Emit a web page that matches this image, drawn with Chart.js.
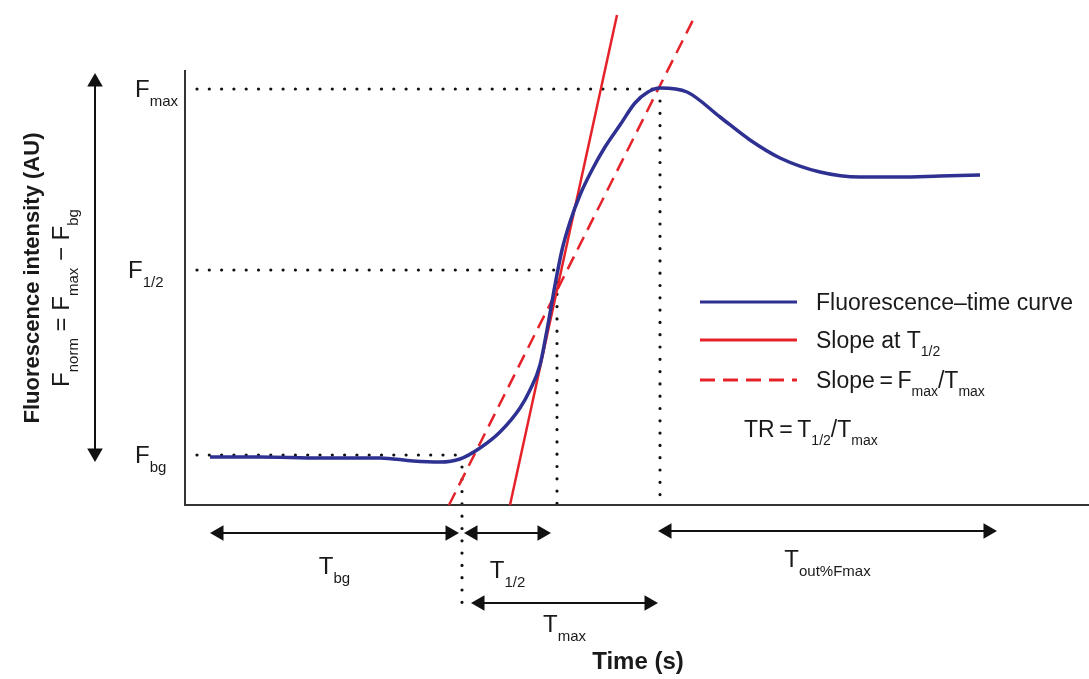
<!DOCTYPE html>
<html>
<head>
<meta charset="utf-8">
<script src="https://cdn.jsdelivr.net/npm/chart.js@4.4.1/dist/chart.umd.min.js"></script>
<style>
  html, body { margin: 0; padding: 0; background: #fff; }
  #wrap { width: 1089px; height: 679px; position: relative; }
</style>
</head>
<body>
<div id="wrap"><canvas id="fig"></canvas></div>
<script>
// === DATA (schematic, arbitrary units) ===
const curveT = [2.5, 7.5, 13.5, 19.5, 22.8, 25.5, 27.5, 29.5, 31.5, 33.5, 34.5, 35.5, 36.2, 37.0, 37.7, 38.5, 39.5, 40.7, 42.0, 43.5, 45.0, 46.3, 47.5, 50.2, 53.5, 56.5, 59.5, 63.5, 67.5, 71.5, 75.5, 79.5];
const curveF = [4.8, 4.8, 4.7, 4.7, 4.4, 4.3, 4.6, 5.7, 7.3, 9.7, 11.5, 14.0, 17.5, 22.0, 25.5, 28.3, 31.0, 33.5, 35.8, 38.0, 40.2, 41.3, 41.7, 41.3, 38.8, 36.5, 34.7, 33.3, 32.8, 32.8, 32.9, 33.0];

const slopeHalfT = [32.5, 43.2];
const slopeHalfF = [0, 49.0];
const slopeMaxT = [26.4, 50.8];
const slopeMaxF = [0, 48.5];

// levels Fbg, F1/2, Fmax and the time each dotted guide ends at
const levelNames = [['F', 'bg'], ['F', '1/2'], ['F', 'max']];
const levelF = [5.0, 23.5, 41.6];
const levelT = [27.7, 37.2, 47.5];
const levelDrop = [-10, 0, 0];

// time spans (double arrows)
const spanNames = [['T', 'bg'], ['T', '1/2'], ['T', 'max'], ['T', 'out%Fmax']];
const spanFrom = [2.5, 27.9, 28.6, 47.3];
const spanTo = [27.4, 36.6, 47.3, 81.2];
const spanAt = [-2.8, -2.8, -9.8, -2.6];

// F_norm arrow on the left
const normT = -9.0;
const normFrom = 4.3;
const normTo = 43.2;

// axes
const axisT = [0, 0, 90.4];
const axisF = [43.5, 0, 0];

// === STYLE ===
const BLUE = '#2e3192';
const RED = '#e52229';
const INK = '#111';
const FONT = "'Liberation Sans', Arial, Helvetica, sans-serif";
const HEAD = 0.9; // arrow head radius in data units (9px)

const pts = (xs, ys) => xs.map((x, i) => ({ x: x, y: ys[i] }));

function arrowSet(x0, y0, x1, y1) {
    const len = Math.hypot(x1 - x0, y1 - y0);
    const dx = (x1 - x0) / len, dy = (y1 - y0) / len;
    // screen angle: 0 = up, 90 = right
    const rot = Math.atan2(dx, dy) * 180 / Math.PI;
    return {
        data: [{ x: x0 + dx * HEAD, y: y0 + dy * HEAD }, { x: x1 - dx * HEAD, y: y1 - dy * HEAD }],
        showLine: true,
        borderColor: INK,
        borderWidth: 2,
        pointStyle: 'triangle',
        pointRadius: 9,
        pointRotation: [rot + 180, rot],
        pointBackgroundColor: INK,
        pointBorderColor: INK,
        pointBorderWidth: 0,
        clip: false
    };
}

function dotted(xs, ys) {
    return {
        data: pts(xs, ys),
        showLine: true,
        borderColor: INK,
        borderWidth: 3.2,
        borderDash: [0, 12.3],
        borderCapStyle: 'round',
        pointRadius: 0,
        clip: false
    };
}

const datasets = [];
datasets.push({
    data: pts(curveT, curveF), showLine: true, borderColor: BLUE, borderWidth: 3.5,
    cubicInterpolationMode: 'monotone', pointRadius: 0
});
datasets.push({ data: pts(slopeHalfT, slopeHalfF), showLine: true, borderColor: RED, borderWidth: 2.5, pointRadius: 0 });
datasets.push({ data: pts(slopeMaxT, slopeMaxF), showLine: true, borderColor: RED, borderWidth: 2.5, borderDash: [14, 8], pointRadius: 0 });
datasets.push({ data: pts(axisT, axisF), showLine: true, borderColor: '#333', borderWidth: 2, pointRadius: 0 });
for (let i = 0; i < levelF.length; i++) {
    datasets.push(dotted([1.2, levelT[i]], [levelF[i], levelF[i]]));
    datasets.push(dotted([levelT[i], levelT[i]], [levelF[i] - 1.2, levelDrop[i]]));
}
for (let i = 0; i < spanFrom.length; i++) {
    datasets.push(arrowSet(spanFrom[i], spanAt[i], spanTo[i], spanAt[i]));
}
datasets.push(arrowSet(normT, normFrom, normT, normTo));

// === TEXT WITH SUBSCRIPTS ===
function drawRich(ctx, x, y, parts, size, align) {
    const sub = Math.round(size * 0.62);
    let w = 0;
    parts.forEach(p => {
        ctx.font = (p[1] ? sub : size) + 'px ' + FONT;
        w += ctx.measureText(p[0]).width;
    });
    let cx = align === 'center' ? x - w / 2 : (align === 'right' ? x - w : x);
    ctx.textAlign = 'left';
    ctx.textBaseline = 'alphabetic';
    parts.forEach(p => {
        ctx.font = (p[1] ? sub : size) + 'px ' + FONT;
        ctx.fillText(p[0], cx, p[1] ? y + size * 0.36 : y);
        cx += ctx.measureText(p[0]).width;
    });
}

const labelsPlugin = {
    id: 'labels',
    afterDatasetsDraw(chart) {
        const ctx = chart.ctx;
        const xs = chart.scales.x, ys = chart.scales.y;
        ctx.save();
        ctx.fillStyle = '#1a1a1a';

        // level labels
        const levelLeft = [135, 128, 135];
        levelNames.forEach((n, i) => {
            drawRich(ctx, levelLeft[i], ys.getPixelForValue(levelF[i]) + 8, [[n[0], false], [n[1], true]], 24);
        });

        // span labels
        const spanDrop = [41, 45, 29, 36];
        spanNames.forEach((n, i) => {
            const cx = xs.getPixelForValue((spanFrom[i] + spanTo[i]) / 2);
            drawRich(ctx, cx, ys.getPixelForValue(spanAt[i]) + spanDrop[i], [[n[0], false], [n[1], true]], 24, 'center');
        });

        // legend
        const lx0 = 700, lx1 = 797, tx = 816;
        const rows = [302, 340, 380];
        ctx.lineWidth = 3;
        ctx.strokeStyle = BLUE;
        ctx.beginPath(); ctx.moveTo(lx0, rows[0]); ctx.lineTo(lx1, rows[0]); ctx.stroke();
        ctx.strokeStyle = RED;
        ctx.beginPath(); ctx.moveTo(lx0, rows[1]); ctx.lineTo(lx1, rows[1]); ctx.stroke();
        ctx.setLineDash([15, 8]);
        ctx.beginPath(); ctx.moveTo(lx0, rows[2]); ctx.lineTo(lx1, rows[2]); ctx.stroke();
        ctx.setLineDash([]);
        drawRich(ctx, tx, rows[0] + 8, [['Fluorescence\u2013time curve', false]], 23);
        drawRich(ctx, tx, rows[1] + 8, [['Slope at T', false], ['1/2', true]], 23);
        drawRich(ctx, tx, rows[2] + 8, [['Slope\u2009=\u2009F', false], ['max', true], ['/T', false], ['max', true]], 23);
        drawRich(ctx, 744, 437, [['TR\u2009=\u2009T', false], ['1/2', true], ['/T', false], ['max', true]], 23);

        // F_norm label (rotated)
        ctx.save();
        ctx.translate(69, 298);
        ctx.rotate(-Math.PI / 2);
        drawRich(ctx, 0, 0, [['F', false], ['norm', true], [' = F', false], ['max', true], [' \u2212 F', false], ['bg', true]], 24, 'center');
        ctx.restore();

        // axis titles
        ctx.font = 'bold 22px ' + FONT;
        ctx.textAlign = 'center';
        ctx.textBaseline = 'middle';
        ctx.save();
        ctx.translate(33, 278);
        ctx.rotate(-Math.PI / 2);
        ctx.fillText('Fluorescence intensity (AU)', 0, 0);
        ctx.restore();
        ctx.font = 'bold 24px ' + FONT;
        ctx.fillText('Time (s)', 638, 662);
        ctx.restore();
    }
};

const chart = new Chart(document.getElementById('fig').getContext('2d'), {
    type: 'scatter',
    data: { datasets: datasets },
    options: {
        responsive: true,
        maintainAspectRatio: false,
        animation: false,
        events: [],
        layout: { padding: 0, autoPadding: false },
        scales: {
            x: { type: 'linear', display: false, min: -18.5, max: 90.4 },
            y: { type: 'linear', display: false, min: -17.4, max: 50.5 }
        },
        plugins: { legend: { display: false }, tooltip: { enabled: false } }
    },
    plugins: [labelsPlugin]
});
</script>
</body>
</html>
